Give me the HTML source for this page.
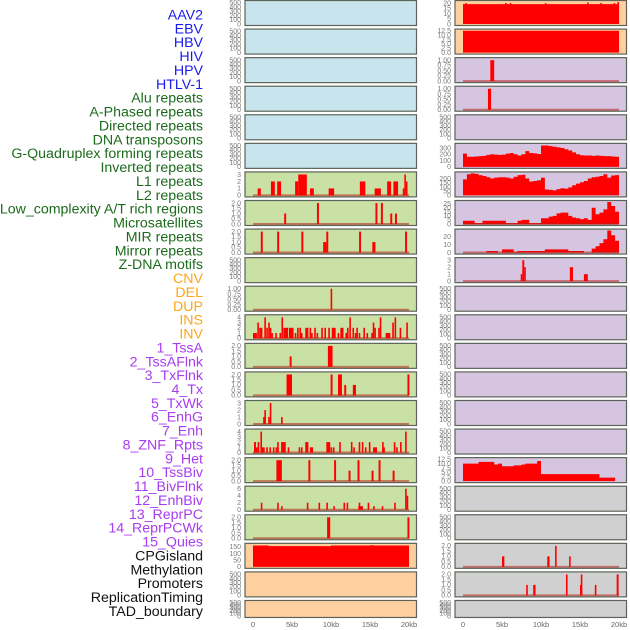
<!DOCTYPE html>
<html><head><meta charset="utf-8"><style>
html,body{margin:0;padding:0;background:#fff;}
svg{display:block;font-family:"Liberation Sans",sans-serif;}
</style></head><body>
<svg id="chart" width="630" height="630" viewBox="0 0 630 630" xmlns="http://www.w3.org/2000/svg"></svg>
<script>
// ---- data ----
const trackLabels = ["AAV2","EBV","HBV","HIV","HPV","HTLV-1","Alu repeats","A-Phased repeats","Directed repeats","DNA transposons","G-Quadruplex forming repeats","Inverted repeats","L1 repeats","L2 repeats","Low_complexity A/T rich regions","Microsatellites","MIR repeats","Mirror repeats","Z-DNA motifs","CNV","DEL","DUP","INS","INV","1_TssA","2_TssAFlnk","3_TxFlnk","4_Tx","5_TxWk","6_EnhG","7_Enh","8_ZNF_Rpts","9_Het","10_TssBiv","11_BivFlnk","12_EnhBiv","13_ReprPC","14_ReprPCWk","15_Quies","CPGisland","Methylation","Promoters","ReplicationTiming","TAD_boundary"];
const labelColors = ["#1a1aee","#1a1aee","#1a1aee","#1a1aee","#1a1aee","#1a1aee","#1c6b1c","#1c6b1c","#1c6b1c","#1c6b1c","#1c6b1c","#1c6b1c","#1c6b1c","#1c6b1c","#1c6b1c","#1c6b1c","#1c6b1c","#1c6b1c","#1c6b1c","#ffa51a","#ffa51a","#ffa51a","#ffa51a","#ffa51a","#a83cf0","#a83cf0","#a83cf0","#a83cf0","#a83cf0","#a83cf0","#a83cf0","#a83cf0","#a83cf0","#a83cf0","#a83cf0","#a83cf0","#a83cf0","#a83cf0","#a83cf0","#111","#111","#111","#111","#111"];
const xTickValues = [0,5,10,15,20];
const xTickLabels = ["0","5kb","10kb","15kb","20kb"];

const ticksEmpty = ["0","100","200","300","400","500"];
const ticks01 = ["0.00","0.25","0.50","0.75","1.00"];
const ticks02 = ["0.0","0.5","1.0","1.5","2.0"];
const ticks03 = ["0","1","2","3"];
const ticks04 = ["0","1","2","3","4"];
const ticks06 = ["0","2","4","6"];
const ticks125 = ["0.0","2.5","5.0","7.5","10.0","12.5"];
const ticks20 = ["0","5","10","15","20"];
const ticks25 = ["0","5","10","15","20","25"];
const ticks30 = ["0","10","20"];
const ticks150 = ["0","50","100","150"];
const ticks200 = ["0","50","100","150","200"];
const ticks300 = ["0","100","200","300"];

// bars: [startKb, endKb, value]
const barsL6 = [[0.6,1.0,1],[2.3,2.8,2],[3.1,3.6,2],[5.4,5.8,2],[5.8,6.9,3],[7.3,7.8,1],[9.7,10.4,1],[13.7,14.4,2],[15.6,16.4,1],[17.2,17.7,2],[18.0,18.6,2],[19.2,19.4,1],[19.4,19.6,3],[19.6,19.8,2]];
const barsL7 = [[4.0,4.25,1],[8.2,8.45,2],[15.7,15.95,2],[16.4,16.65,2],[17.6,17.85,1],[18.2,18.45,1]];
const barsL8 = [[1.0,1.25,2],[3.1,3.35,2],[6.2,6.45,2],[9.0,9.4,1],[9.4,9.65,2],[13.6,13.85,2],[15.3,15.7,1],[19.5,19.75,2]];
const barsL10 = [[9.95,10.15,1]];
const barsL11 = [[0,0.5,1],[0.55,0.7,3],[0.8,1.2,2],[1.45,1.6,4],[1.7,1.85,2],[1.95,2.1,3],[2.15,2.3,2],[2.35,2.5,1],[2.85,3.0,1],[3.4,3.55,1],[3.65,3.8,4],[3.9,4.5,2],[4.6,5.2,2],[5.35,5.5,1],[5.65,5.8,2],[5.95,6.1,2],[6.15,6.3,1],[6.7,7.1,2],[7.25,7.4,2],[7.45,7.6,1],[7.85,8.0,2],[8.15,8.3,1],[8.75,8.9,2],[9.15,9.3,2],[9.65,9.8,2],[10.1,10.6,2],[10.85,11.0,1],[11.2,11.6,2],[11.85,12.0,1],[12.05,12.2,2],[12.35,12.5,4],[12.75,12.9,2],[13.05,13.2,1],[13.25,13.4,2],[13.55,13.7,1],[14.15,14.3,2],[14.55,14.7,1],[15.15,15.3,1],[15.35,15.5,3],[15.55,15.7,2],[16.05,16.2,2],[16.25,16.4,4],[17.0,17.6,1],[17.85,18.0,3],[18.15,18.3,4],[18.8,19.0,2],[19.65,19.85,3]];
const barsL12 = [[4.7,4.95,1],[9.6,10.2,2]];
const barsL13 = [[4.3,5.0,2],[9.95,10.2,2],[10.9,11.4,2],[11.7,11.95,1],[12.8,13.2,1],[19.8,20.05,2]];
const barsL14 = [[1.3,1.45,1],[1.45,1.6,2],[1.95,2.1,1],[2.15,2.3,3],[3.6,3.75,1]];
const barsL15 = [[0.13,0.38,2],[0.38,0.6,1],[0.6,0.75,2],[0.95,1.1,4],[1.1,1.5,1],[1.7,1.85,1],[2.1,2.25,1],[2.55,2.7,1],[2.9,3.05,1],[3.1,3.25,2],[3.6,4.2,2],[4.45,4.6,1],[5.85,6.0,1],[6.15,6.3,1],[6.7,7.1,2],[7.3,7.7,1],[9.4,9.9,2],[9.95,10.1,1],[10.25,10.4,1],[11.05,11.2,2],[12.55,12.7,2],[12.85,13.0,1],[13.55,13.7,2],[13.95,14.1,2],[14.35,14.5,1],[14.85,15.0,2],[15.4,15.9,1],[16.55,16.7,2],[16.7,16.85,1],[18.05,18.2,2],[18.35,18.5,1],[18.85,19.0,2],[19.5,19.7,4]];
const barsL16 = [[3.0,3.7,2],[7.1,7.35,2],[10.4,10.65,2],[12.25,12.5,1],[13.4,13.65,2],[15.2,15.45,1],[16.1,16.35,2],[17.9,18.15,1]];
const barsL17 = [[1.0,1.2,2],[3.1,3.3,2],[3.6,3.8,1],[6.9,7.1,2],[8.4,8.6,2],[9.4,9.6,2],[10.3,10.5,1],[11.6,11.8,2],[12.0,12.2,2],[13.5,14.1,1],[13.55,13.7,2],[14.7,14.9,2],[15.4,15.6,1],[16.5,16.7,1],[18.1,18.3,2],[19.5,19.7,6],[19.7,19.85,4]];
const barsL18 = [[9.5,9.9,2],[19.8,20.05,2]];
const profileL19 = [160,160,160,160,155,155,155,155,155,155,155,155,155,155,155,155,155,155,155,155,160,160,160,160,160,160,160,160,160,160,162,160,160,160,160,160,160,160,160,160];

const profileR0 = [19,19,19,19,19,19,19,19,19,19,19,19,19,19,19,19,19,19,19,19,19,19,19,19,19,19,19,19,19,19,19,19,19,19,19,19,19,19,19,19];
const barsR0 = [[0.3,0.45,20],[5.4,5.55,20],[6.0,6.15,20],[10.5,10.65,20],[15.9,16.05,20.5],[17.6,17.75,20],[19.3,19.45,20],[19.8,19.95,21]];
const profileR1 = [12.5,12.5,12.5,12.5,12.5,12.5,12.5,12.5,12.5,12.5,12.5,12.5,12.5,12.5,12.5,12.5,12.5,12.5,12.5,12.5,12.5,12.5,12.5,12.5,12.5,12.5,12.5,12.5,12.5,12.5,12.5,12.5,12.5,12.5,12.5,12.5,12.5,12.5,12.5,12.5];
const barsR2 = [[3.5,4.0,1]];
const barsR3 = [[3.2,3.6,1]];
const profileR5 = [210,160,160,165,170,175,190,200,195,190,195,210,220,200,180,200,250,220,215,205,340,340,330,320,310,300,280,260,230,200,185,180,180,175,180,175,170,170,165,160];
const profileR6 = [190,250,260,255,240,230,215,200,210,215,215,210,200,220,240,245,200,165,170,180,210,70,65,60,75,85,80,95,120,140,155,170,200,215,220,230,250,210,235,240];
const profileR7 = [4,4,4,1,1,4,4,4,4,4,4,1,1,1,4,5,5,1,1,1,7,7,9,10,13,14,14,10,8,7,6,7,5,20,12,14,18,27,22,15];
const profileR8 = [0,0,0,0,0,0,2,2,2,0,4,4,4,1,2,2,2,2,2,2,2,4,4,4,4,4,4,2,2,2,2,0,0,5,8,12,17,28,22,15];
const barsR9 = [[7.4,7.6,1],[7.6,7.85,3],[7.85,8.0,2],[13.7,14.1,2],[15.5,16.0,1]];
const profileR16 = [10,10,10,10,11,11,11,11,9.5,10,8.5,8.5,8.5,9,9,9.5,10,10,10,11.5,4,4,4,4,4,4,4,4,4,4,4,4,4,4,4,2,2,2,2,0];
const barsR19 = [[5.0,5.3,1],[10.8,11.1,1],[11.8,12.0,2],[13.6,13.8,1]];
const barsR20 = [[8.1,8.3,1],[9.0,9.3,1],[13.2,13.4,2],[15.0,15.1,1],[15.1,15.3,2],[16.9,17.1,1],[19.7,19.95,2]];

const BLUE="#c8e4ec", GREEN="#c9e1a5", ORANGE="#ffd09f", PURPLE="#d5c5e1", GRAY="#d0d0d0";
const leftTracks = [
 {bg:BLUE,dmax:520,ticks:ticksEmpty},{bg:BLUE,dmax:520,ticks:ticksEmpty},{bg:BLUE,dmax:520,ticks:ticksEmpty},
 {bg:BLUE,dmax:520,ticks:ticksEmpty},{bg:BLUE,dmax:520,ticks:ticksEmpty},{bg:BLUE,dmax:520,ticks:ticksEmpty},
 {bg:GREEN,dmax:3.15,ticks:ticks03,bars:barsL6},{bg:GREEN,dmax:2.1,ticks:ticks02,bars:barsL7},
 {bg:GREEN,dmax:2.1,ticks:ticks02,bars:barsL8},{bg:GREEN,dmax:520,ticks:ticksEmpty},
 {bg:GREEN,dmax:1.05,ticks:ticks01,bars:barsL10},{bg:GREEN,dmax:4.2,ticks:ticks04,bars:barsL11},
 {bg:GREEN,dmax:2.1,ticks:ticks02,bars:barsL12},{bg:GREEN,dmax:2.1,ticks:ticks02,bars:barsL13},
 {bg:GREEN,dmax:3.15,ticks:ticks03,bars:barsL14},{bg:GREEN,dmax:4.2,ticks:ticks04,bars:barsL15},
 {bg:GREEN,dmax:2.1,ticks:ticks02,bars:barsL16},{bg:GREEN,dmax:6.3,ticks:ticks06,bars:barsL17},
 {bg:GREEN,dmax:2.1,ticks:ticks02,bars:barsL18},{bg:ORANGE,dmax:165,ticks:ticks150,profile:profileL19,nobase:true},
 {bg:ORANGE,dmax:520,ticks:ticksEmpty},{bg:ORANGE,dmax:520,ticks:ticksEmpty}
];
const rightTracks = [
 {bg:ORANGE,dmax:21,ticks:ticks20,profile:profileR0,bars:barsR0,nobase:true},{bg:ORANGE,dmax:12.6,ticks:ticks125,profile:profileR1,nobase:true},
 {bg:PURPLE,dmax:1.05,ticks:ticks01,bars:barsR2},{bg:PURPLE,dmax:1.05,ticks:ticks01,bars:barsR3},
 {bg:PURPLE,dmax:520,ticks:ticksEmpty},{bg:PURPLE,dmax:350,ticks:ticks300,profile:profileR5,nobase:true},
 {bg:PURPLE,dmax:260,ticks:ticks200,profile:profileR6,nobase:true},{bg:PURPLE,dmax:27,ticks:ticks25,profile:profileR7},
 {bg:PURPLE,dmax:28,ticks:ticks30,profile:profileR8},{bg:PURPLE,dmax:3.15,ticks:ticks03,bars:barsR9},
 {bg:PURPLE,dmax:520,ticks:ticksEmpty},{bg:PURPLE,dmax:520,ticks:ticksEmpty},{bg:PURPLE,dmax:520,ticks:ticksEmpty},
 {bg:PURPLE,dmax:520,ticks:ticksEmpty},{bg:PURPLE,dmax:520,ticks:ticksEmpty},{bg:PURPLE,dmax:520,ticks:ticksEmpty},
 {bg:PURPLE,dmax:12.6,ticks:ticks125,profile:profileR16,nobase:true},
 {bg:GRAY,dmax:520,ticks:ticksEmpty},{bg:GRAY,dmax:520,ticks:ticksEmpty},
 {bg:GRAY,dmax:2.1,ticks:ticks02,bars:barsR19},{bg:GRAY,dmax:2.1,ticks:ticks02,bars:barsR20},
 {bg:GRAY,dmax:520,ticks:ticksEmpty}
];

// ---- rendering ----
const NS="http://www.w3.org/2000/svg";
const svg=document.getElementById('chart');
function mk(tag,attrs,parent){const e=document.createElementNS(NS,tag);for(const k in attrs)e.setAttribute(k,attrs[k]);(parent||svg).appendChild(e);return e;}

trackLabels.forEach((t,i)=>{
  const e=mk('text',{x:203,y:(19.5+i*13.87).toFixed(1),'text-anchor':'end','font-size':'14.2',fill:labelColors[i]});
  e.textContent=t;
  
  
});

const cols=[{x0:245,x1:416.5,zero:253,tickX:241},{x0:455,x1:626.5,zero:463,tickX:451}];
const PXKB=7.8;
function rowTop(r){return 0.5+r*28.57;}
function rowH(r){return r===21?17:25;}

function drawTrack(tr,ci,r){
  const c=cols[ci];
  const top=rowTop(r), h=rowH(r), bot=top+h;
  const g=mk('g',{});
  
  
  mk('rect',{x:c.x0,y:top,width:c.x1-c.x0,height:h,fill:tr.bg},g);
  const y0=bot-1.5, span=h-3;
  const xs=kb=>c.zero+kb*PXKB;
  const ys=v=>y0-v/tr.dmax*span;
  tr.ticks.forEach((lab)=>{
    const v=parseFloat(lab);
    const t=mk('text',{x:c.tickX,y:(ys(v)+2.3).toFixed(1),'text-anchor':'end','font-size':'7',fill:'#7a7a7a'},g);
    t.textContent=lab;
    
    
  });
  if(tr.profile){
    let d='M'+xs(0)+','+y0;
    tr.profile.forEach((v,i)=>{d+=' L'+xs(i*0.5).toFixed(2)+','+ys(v).toFixed(2)+' L'+xs(i*0.5+0.5).toFixed(2)+','+ys(v).toFixed(2);});
    d+=' L'+xs(20)+','+y0+' Z';
    const p=mk('path',{d:d,fill:'#ff0000'},g);
    
    
  }
  if((tr.bars||tr.profile)&&!tr.nobase){
    const b=mk('line',{x1:xs(0),x2:xs(20),y1:y0,y2:y0,stroke:'rgba(180,30,20,0.55)','stroke-width':2},g);
    
    
  }
  if(tr.bars){
    tr.bars.forEach(b=>{
      const x=xs(b[0]), w=Math.max(1.6,(b[1]-b[0])*PXKB);
      const rr=mk('rect',{x:x.toFixed(2),y:ys(b[2]).toFixed(2),width:w.toFixed(2),height:(y0-ys(b[2])).toFixed(2),fill:'#ff0000'},g);
      
      
    });
  }
  const fr=mk('rect',{x:c.x0,y:top,width:c.x1-c.x0,height:h,fill:'none',stroke:'#5c6358','stroke-width':1.2},g);
  
  
}
leftTracks.forEach((t,i)=>drawTrack(t,0,i));
rightTracks.forEach((t,i)=>drawTrack(t,1,i));

cols.forEach((c)=>{
  xTickValues.forEach((v,i)=>{
    const t=mk('text',{x:c.zero+v*PXKB,y:627,'text-anchor':'middle','font-size':'7.5',fill:'#666'});
    t.textContent=xTickLabels[i];
    
    
  });
});
</script>
</body></html>
